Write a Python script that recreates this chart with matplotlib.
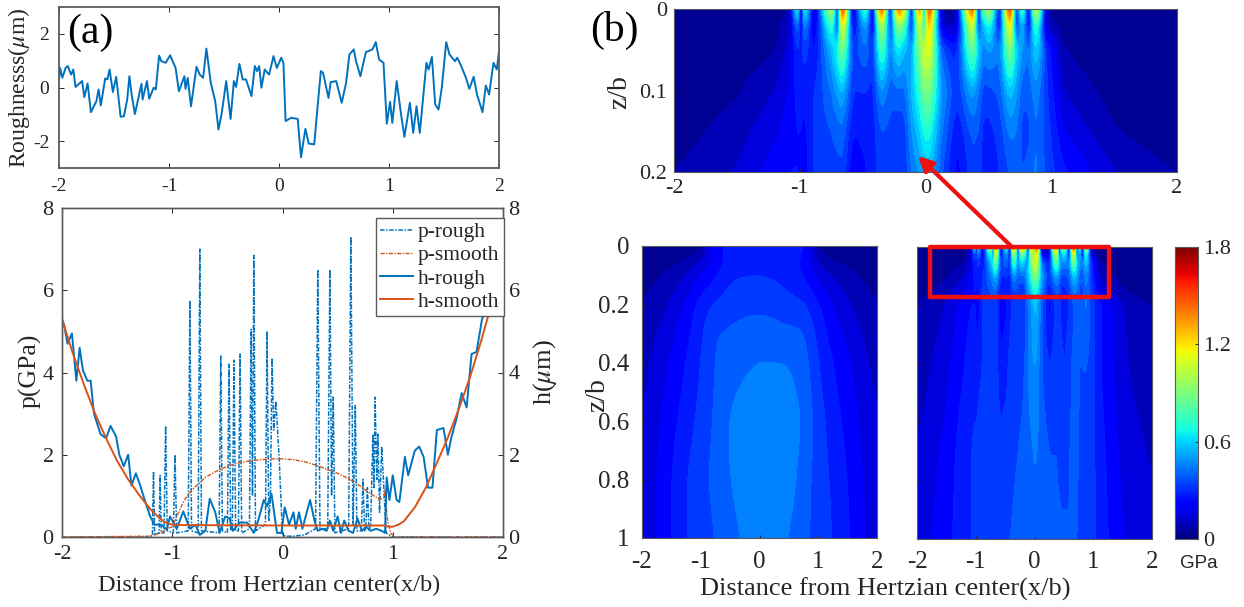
#!/usr/bin/env python
"""Rough vs smooth contact: film, pressure and subsurface stress panels."""

import numpy as np
import matplotlib

matplotlib.use("Agg")
import matplotlib.pyplot as plt
from matplotlib.patches import Rectangle

plt.rcParams["font.family"] = ["Liberation Serif", "DejaVu Serif"]
plt.rcParams["mathtext.fontset"] = "stix"

W, H = 1244, 607
BLUE = "#0072BD"
ORANGE = "#D95319"
DARK = "#262626"
EDGE = "#5a5a5a"

rough_x = [-2.00, -1.99, -1.97, -1.94, -1.92, -1.89, -1.87, -1.85, -1.79, -1.77, -1.74, -1.71, -1.66,
           -1.64, -1.62, -1.58, -1.56, -1.54, -1.51, -1.48, -1.44, -1.41, -1.38, -1.36, -1.34, -1.31,
           -1.25, -1.24, -1.20, -1.18, -1.14, -1.12, -1.09, -1.07, -1.03, -0.99, -0.94, -0.91, -0.86,
           -0.85, -0.83, -0.80, -0.75, -0.72, -0.69, -0.66, -0.62, -0.58, -0.55, -0.52, -0.48, -0.44,
           -0.41, -0.39, -0.36, -0.33, -0.30, -0.25, -0.22, -0.20, -0.18, -0.16, -0.13, -0.09, -0.05,
           -0.02, 0.02, 0.04, 0.06, 0.11, 0.17, 0.20, 0.24, 0.27, 0.32, 0.38, 0.40, 0.45, 0.47, 0.52,
           0.57, 0.61, 0.64, 0.68, 0.70, 0.74, 0.79, 0.85, 0.88, 0.91, 0.95, 0.98, 1.01, 1.03, 1.07,
           1.11, 1.14, 1.19, 1.22, 1.25, 1.28, 1.34, 1.36, 1.39, 1.42, 1.45, 1.48, 1.52, 1.55, 1.60,
           1.62, 1.65, 1.70, 1.73, 1.77, 1.80, 1.85, 1.88, 1.91, 1.95, 1.98, 2.00]
rough_y = [0.30, 0.73, 0.36, 0.73, 0.80, 0.48, 0.67, 0.02, 0.24, -0.36, 0.15, -0.92, -0.51,
           -0.07, -0.67, 0.34, 0.30, 0.67, -0.17, 0.40, -1.09, -1.07, -0.45, 0.42, -0.26, -0.99,
           0.14, -0.45, 0.24, -0.42, -0.01, -0.07, 1.19, 0.98, 0.92, 1.20, 0.73, -0.14, 0.42,
           -0.05, 0.36, -0.70, 0.77, 0.48, 0.36, 1.45, 0.17, -0.51, -1.57, -0.94, 0.24, -1.17,
           0.24, 0.02, 0.88, 0.30, 0.30, -0.32, 0.80, 0.61, 0.80, -0.01, 0.67, 0.48, 1.17,
           0.73, 1.11, 0.92, -1.25, -1.13, -1.17, -2.60, -1.54, -2.09, -2.12, 0.61, 0.55, -0.39, 0.20, 0.24,
           -0.57, 0.17, 1.23, 1.42, 0.98, 0.42, 1.32, 1.42, 1.69, 1.04, 0.92, -1.35, -0.53, -1.32, 0.24,
           -1.01, -1.84, -0.57, -1.69, -0.70, -1.69, 0.92, 0.67, 1.14, -0.63, -0.82, -0.01, 1.69, 1.23, 0.98,
           1.11, 0.86, 0.36, -0.05, 0.40, -0.26, -0.92, 0.07, -0.26, 0.92, 0.67, 1.35]

p_rough_x = [-2.0, -1.22, -1.18, -1.17, -1.16, -1.12, -1.11, -1.10, -1.075, -1.06, -1.045, -0.99, -0.975, -0.96,
             -0.855, -0.84, -0.825, -0.765, -0.75, -0.735, -0.575, -0.56, -0.545, -0.50, -0.485, -0.47,
             -0.455, -0.44, -0.425, -0.40, -0.385, -0.37, -0.30, -0.285, -0.272, -0.26, -0.245, -0.155, -0.14,
             -0.125, -0.11, -0.095, -0.08, -0.06, -0.03, 0.0, 0.03, 0.10, 0.20, 0.30, 0.32, 0.34, 0.41, 0.43,
             0.445, 0.46, 0.475, 0.60, 0.62, 0.64, 0.66, 0.675, 0.715, 0.73, 0.745, 0.755, 0.77, 0.785,
             0.80, 0.82, 0.83, 0.84, 0.855, 0.865, 0.88, 0.90, 0.94, 1.0, 2.0]
p_rough_y = [0.0, 0.0, 0.03, 1.6, 0.05, 0.1, 1.5, 0.1, 0.1, 2.7, 0.15, 0.1, 2.0, 0.1,
             0.15, 5.75, 0.15, 0.1, 7.0, 0.15, 0.1, 4.4, 0.15, 0.1, 4.2, 0.15,
             0.2, 4.3, 0.15, 0.15, 4.45, 0.1, 0.2, 5.05, 1.0, 6.85, 0.15, 0.3, 5.0,
             0.4, 0.9, 4.35, 2.6, 3.3, 1.9, 0.05, 0.02, 0.02, 0.05, 0.2, 6.5, 0.2, 0.2, 6.5,
             1.0, 3.4, 0.1, 0.2, 7.3, 0.3, 3.2, 0.15, 0.15, 1.4, 0.15, 0.15, 1.2, 0.15,
             0.3, 2.5, 1.2, 3.4, 1.4, 2.5, 0.6, 2.2, 0.1, 0.0, 0.0]

p_smooth_x = [-2.0, -1.2, -1.1, -1.05, -1.0, -0.95, -0.9, -0.85, -0.8, -0.7, -0.6, -0.5, -0.4, -0.3, -0.2, -0.1,
              0.0, 0.1, 0.2, 0.3, 0.4, 0.5, 0.6, 0.7, 0.8, 0.88, 0.92, 0.93, 0.95, 0.98, 1.02, 2.0]
p_smooth_y = [0.0, 0.02, 0.1, 0.2, 0.25, 0.55, 0.85, 1.05, 1.2, 1.45, 1.6, 1.72, 1.8, 1.85, 1.88, 1.9,
              1.9, 1.88, 1.83, 1.75, 1.65, 1.55, 1.42, 1.25, 1.05, 0.92, 0.95, 1.15, 0.45, 0.1, 0.0, 0.0]

h_rough_x = [-2.00, -1.98, -1.95, -1.91, -1.87, -1.84, -1.81, -1.77, -1.74, -1.71, -1.65, -1.60, -1.56, -1.51,
             -1.48, -1.44, -1.40, -1.37, -1.33, -1.29, -1.25, -1.20, -1.16, -1.10, -1.05, -1.02, -0.96, -0.90,
             -0.84, -0.79, -0.75, -0.70, -0.66, -0.61, -0.57, -0.52, -0.48, -0.45, -0.39, -0.32, -0.26, -0.22,
             -0.17, -0.14, -0.10, -0.05, -0.01, 0.02, 0.06, 0.10, 0.12, 0.15, 0.18, 0.22, 0.25, 0.29, 0.32,
             0.36, 0.40, 0.43, 0.46, 0.50, 0.53, 0.56, 0.60, 0.64, 0.68, 0.72, 0.76, 0.80, 0.85, 0.90, 0.93,
             0.945, 0.97, 1.00, 1.035, 1.06, 1.11, 1.14, 1.20, 1.24, 1.28, 1.32, 1.36, 1.40, 1.46, 1.50, 1.53,
             1.58, 1.625, 1.67, 1.715, 1.76, 1.81, 1.90, 1.97, 2.00]
h_rough_y = [5.30, 5.15, 4.70, 4.95, 3.80, 4.60, 4.05, 3.80, 3.80, 3.00, 2.50, 2.40, 2.70, 2.45,
             2.00, 1.72, 2.00, 1.25, 1.55, 1.25, 0.90, 0.50, 0.30, 0.30, 0.18, 0.50, 0.20, 0.62,
             0.20, 0.30, 0.05, 0.15, 0.93, 0.60, 0.10, 0.50, 0.45, 0.15, 0.35, 0.35, 0.10, 0.40,
             0.90, 0.75, 1.05, 0.10, 0.10, 0.72, 0.30, 0.60, 0.20, 0.60, 0.20, 0.60, 0.90, 0.40, 0.15,
             0.20, 0.15, 0.40, 0.15, 0.50, 0.10, 0.40, 0.15, 0.10, 0.45, 0.15, 0.25, 0.15, 0.20, 0.15, 0.10,
             1.45, 0.90, 1.50, 0.90, 0.85, 1.95, 1.50, 2.10, 2.20, 1.95, 1.20, 1.20, 2.60, 2.65, 2.00, 2.40,
             2.90, 3.50, 3.15, 4.45, 4.50, 5.30, 5.90, 6.15, 6.20]

h_smooth_x = [-2.0, -1.9, -1.8, -1.7, -1.6, -1.5, -1.4, -1.3, -1.2, -1.1, -1.05, -1.0, -0.9, 0.0, 0.92, 0.97, 1.0,
              1.05, 1.1, 1.2, 1.3, 1.4, 1.5, 1.6, 1.7, 1.8, 1.9, 2.0]
h_smooth_y = [5.3, 4.45, 3.7, 3.0, 2.4, 1.85, 1.4, 1.02, 0.68, 0.42, 0.34, 0.3, 0.29, 0.28, 0.28, 0.25, 0.25,
              0.3, 0.38, 0.72, 1.2, 1.8, 2.42, 3.12, 3.88, 4.75, 5.7, 6.75]

# stress grid, smooth contact
smooth_x = [-2, -1.75, -1.5, -1.25, -1, -0.75, -0.5, -0.25, 0, 0.25, 0.5, 0.75, 1, 1.25, 1.5, 1.75, 2]
smooth_z = [0, 0.05, 0.1, 0.2, 0.3, 0.4, 0.6, 0.8, 1]
smooth_s = [
    [0.00, 0.00, 0.00, 0.00, 0.03, 0.22, 0.26, 0.28, 0.28, 0.28, 0.28, 0.26, 0.04, 0.00, 0.00, 0.00, 0.00],
    [0.015, 0.025, 0.04, 0.06, 0.12, 0.20, 0.27, 0.285, 0.285, 0.285, 0.26, 0.23, 0.10, 0.06, 0.04, 0.025, 0.015],
    [0.03, 0.05, 0.08, 0.12, 0.18, 0.23, 0.29, 0.295, 0.295, 0.29, 0.27, 0.235, 0.16, 0.11, 0.08, 0.05, 0.03],
    [0.06, 0.09, 0.13, 0.19, 0.27, 0.31, 0.33, 0.34, 0.345, 0.34, 0.32, 0.31, 0.25, 0.18, 0.13, 0.09, 0.06],
    [0.08, 0.12, 0.16, 0.22, 0.29, 0.36, 0.37, 0.385, 0.39, 0.38, 0.375, 0.37, 0.28, 0.21, 0.16, 0.12, 0.08],
    [0.095, 0.14, 0.19, 0.24, 0.30, 0.365, 0.39, 0.41, 0.42, 0.42, 0.42, 0.39, 0.30, 0.24, 0.19, 0.14, 0.095],
    [0.12, 0.165, 0.22, 0.27, 0.32, 0.37, 0.43, 0.45, 0.46, 0.46, 0.45, 0.42, 0.33, 0.27, 0.22, 0.165, 0.12],
    [0.14, 0.18, 0.24, 0.30, 0.34, 0.38, 0.42, 0.45, 0.46, 0.46, 0.45, 0.39, 0.33, 0.29, 0.24, 0.18, 0.14],
    [0.15, 0.18, 0.24, 0.30, 0.325, 0.36, 0.40, 0.425, 0.44, 0.44, 0.415, 0.38, 0.33, 0.30, 0.25, 0.19, 0.15],
]

# stress grid, rough contact (columns sit on the asperity peaks and valleys)
rough_gx = [-2, -1.5, -1.2, -1.08, -1.02, -0.99, -0.96, -0.88, -0.75, -0.7, -0.66, -0.58, -0.48, -0.42, -0.35,
            -0.28, -0.22, -0.17, -0.11, -0.05, -0.01, 0.03, 0.12, 0.25, 0.37, 0.42, 0.46, 0.51, 0.59, 0.67,
            0.72, 0.77, 0.82, 0.88, 0.96, 1.1, 1.5, 2]
rough_gz = [0, 0.02, 0.05, 0.1, 0.15, 0.2, 0.4, 0.7, 1]
rough_s = [
    [0, 0, .01, .05, .75, .1, .75, .03, 1.15, .2, 1.72, .03, .85, .05, 1.68, .1, 1.5, 1.2, .15, 1.5, .5, 1.68,
     .05, .03, 1.68, .2, .85, 1.05, .1, 1.75, .2, .85, .1, 1.2, .05, .01, 0, 0],
    [0, .01, .03, .12, .42, .2, .48, .12, .8, .3, 1.25, .15, .55, .15, 1.1, .28, .95, .8, .25, 1.1, .7, 1.35,
     .12, .08, 1.2, .3, .55, .7, .2, 1.3, .3, .55, .2, .8, .1, .03, .01, 0],
    [0, .02, .05, .15, .3, .28, .33, .22, .55, .7, .92, .32, .42, .3, .82, .45, .65, .55, .5, .9, 1.08, 1.15,
     .38, .25, .9, .6, .45, .5, .42, .95, .62, .48, .42, .62, .3, .05, .02, 0],
    [.01, .05, .12, .19, .26, .26, .26, .3, .42, .5, .55, .3, .3, .28, .48, .38, .4, .4, .55, .72, .88, .9,
     .5, .3, .52, .42, .34, .34, .38, .58, .5, .38, .38, .46, .32, .11, .03, .01],
    [.03, .09, .17, .21, .24, .24, .22, .32, .36, .38, .4, .24, .26, .27, .36, .34, .32, .32, .48, .58, .68, .7,
     .44, .24, .38, .36, .28, .28, .32, .44, .42, .34, .34, .42, .34, .18, .06, .02],
    [.055, .125, .21, .24, .24, .22, .2, .32, .34, .34, .34, .19, .23, .28, .32, .32, .3, .31, .42, .48, .54, .55,
     .38, .2, .33, .32, .28, .26, .3, .36, .38, .36, .38, .44, .34, .26, .12, .055],
    [.08, .16, .24, .27, .28, .28, .28, .3, .34, .34, .33, .26, .28, .32, .33, .34, .34, .36, .42, .46, .48, .48,
     .36, .3, .33, .33, .32, .3, .34, .38, .38, .36, .36, .36, .34, .25, .13, .07],
    [.12, .2, .28, .3, .31, .31, .32, .34, .34, .34, .34, .32, .33, .34, .35, .36, .37, .38, .4, .41, .42, .42,
     .4, .36, .36, .34, .34, .34, .36, .37, .37, .35, .35, .34, .33, .27, .16, .11],
    [.14, .22, .28, .3, .31, .31, .32, .33, .35, .36, .36, .35, .36, .36, .37, .38, .38, .39, .4, .41, .41, .41,
     .4, .39, .38, .38, .37, .37, .36, .36, .36, .35, .35, .33, .32, .28, .18, .13],
]

levels = np.arange(0, 1.8001, 0.06)
cbar_ticks = [0, 0.6, 1.2, 1.8]


def px_axes(fig, left, top, right, bottom):
    return fig.add_axes([left / W, 1 - bottom / H, (right - left) / W, (bottom - top) / H])


def style_axes(ax, size=15, width=1.0, pad=4):
    ax.tick_params(direction="in", length=3.5, width=0.7, colors=DARK, labelsize=size, pad=pad)
    for spine in ax.spines.values():
        spine.set_color(EDGE)
        spine.set_linewidth(width)


def refine(x, z, s, factor=6, passes=2):
    """Densify a hand read grid in index space so the bands come out round."""
    s = np.array(s, dtype=float)
    ix = np.linspace(0, len(x) - 1, (len(x) - 1) * factor + 1)
    iz = np.linspace(0, len(z) - 1, (len(z) - 1) * factor + 1)
    fine = np.array([np.interp(ix, np.arange(len(x)), row) for row in s])
    fine = np.array([np.interp(iz, np.arange(len(z)), col) for col in fine.T]).T
    win = np.ones(3) / 3
    for _ in range(passes):
        pad = np.pad(fine, 1, mode="edge")
        pad = np.apply_along_axis(lambda v: np.convolve(v, win, mode="same"), 1, pad)
        pad = np.apply_along_axis(lambda v: np.convolve(v, win, mode="same"), 0, pad)
        fine = pad[1:-1, 1:-1]
    return np.interp(ix, np.arange(len(x)), x), np.interp(iz, np.arange(len(z)), z), fine


def stress_panel(ax, grid, zmax, zticks, zlabels, size=17, pad=6):
    ax.contourf(grid[0], grid[1], grid[2], levels=levels, cmap="jet", extend="both")
    ax.set_xlim(-2, 2)
    ax.set_ylim(zmax, 0)
    ax.set_xticks([-2, -1, 0, 1, 2], ["-2", "-1", "0", "1", "2"])
    ax.set_yticks(zticks, zlabels)
    style_axes(ax, size=size, width=0.8, pad=pad)
    ax.tick_params(length=2.5)


fig = plt.figure(figsize=(W / 100, H / 100), dpi=100)

# (a) roughness
ax_r = px_axes(fig, 59, 7, 499, 168)
ax_r.plot(rough_x, rough_y, color=BLUE, lw=1.4)
ax_r.set_xlim(-2, 2)
ax_r.set_ylim(-3, 3)
ax_r.set_xticks([-2, -1, 0, 1, 2], ["-2", "-1", "0", "1", "2"])
ax_r.set_yticks([-2, 0, 2], ["-2", "0", "2"])
style_axes(ax_r, size=14, width=1.3, pad=7)
ax_r.tick_params(top=True, right=True)

# (a) pressure and film thickness
ax_p = px_axes(fig, 62, 208, 503, 537)
p1, = ax_p.plot(p_rough_x, p_rough_y, color=BLUE, lw=1.1, ls=(0, (3, 1, 1, 1)), label="p-rough")
p2, = ax_p.plot(p_smooth_x, p_smooth_y, color=ORANGE, lw=1.0, ls=(0, (3, 1, 1, 1)), label="p-smooth")
h1, = ax_p.plot(h_rough_x, h_rough_y, color=BLUE, lw=1.4, label="h-rough")
h2, = ax_p.plot(h_smooth_x, h_smooth_y, color=ORANGE, lw=1.4, label="h-smooth")
ax_p.set_xlim(-2, 2)
ax_p.set_ylim(0, 8)
ax_p.set_xticks([-2, -1, 0, 1, 2], ["-2", "-1", "0", "1", "2"])
ax_p.set_yticks([0, 2, 4, 6, 8], ["0", "2", "4", "6", "8"])
style_axes(ax_p, size=16, width=1.0, pad=6)
ax_p.tick_params(top=True)
ax_h = ax_p.twinx()
ax_h.set_ylim(0, 8)
ax_h.set_yticks([0, 2, 4, 6, 8], ["0", "2", "4", "6", "8"])
style_axes(ax_h, size=16, width=1.0)
ax_h.set_zorder(ax_p.get_zorder() - 1)
ax_p.patch.set_visible(False)
ax_p.legend(handles=[p1, p2, h1, h2], loc="upper left", fontsize=15.5,
            bbox_to_anchor=((376 - 62) / 441, (537 - 218) / 329), borderaxespad=0,
            fancybox=False, framealpha=1, edgecolor=EDGE, labelspacing=0.14,
            handlelength=1.5, handletextpad=0.25, borderpad=0.2, labelcolor=DARK)

# (b) stress fields
grid_rough = refine(rough_gx, rough_gz, rough_s)
grid_smooth = refine(smooth_x, smooth_z, smooth_s, factor=8, passes=8)
ax_top = px_axes(fig, 674, 9, 1177, 172)
stress_panel(ax_top, grid_rough, 0.2, [0, 0.1, 0.2], ["0", "0.1", "0.2"], size=16, pad=5)
ax_left = px_axes(fig, 642, 246, 877, 538)
stress_panel(ax_left, grid_smooth, 1, [0, 0.2, 0.4, 0.6, 0.8, 1], ["0", "0.2", "0.4", "0.6", "0.8", "1"],
             size=18, pad=9)
ax_right = px_axes(fig, 917, 247, 1152, 539)
stress_panel(ax_right, grid_rough, 1, [0, 0.2, 0.4, 0.6, 0.8, 1], [], size=18, pad=9)

ax_right.add_patch(Rectangle((-1.78, 0.0), 3.05, 0.17, fill=False, ec="#f01010", lw=3.2,
                             clip_on=False, joinstyle="round", zorder=5))

# colour bar
ax_c = px_axes(fig, 1175, 247, 1198, 539)
ax_c.imshow(np.linspace(1.8, 0, 256)[:, None], aspect="auto", cmap="jet", vmin=0, vmax=1.8,
            extent=[0, 1, 0, 1.8])
ax_c.set_xticks([])
ax_c.yaxis.tick_right()
ax_c.set_yticks(cbar_ticks, ["0", "0.6", "1.2", "1.8"])
style_axes(ax_c, size=16, width=0.8)
ax_c.tick_params(length=2.5, left=False, right=True)

# overlay in pixel coordinates for the arrow and the free labels
ov = fig.add_axes([0, 0, 1, 1], facecolor="none")
ov.set_xlim(0, W)
ov.set_ylim(H, 0)
ov.axis("off")
ov.annotate("", xy=(918, 156), xytext=(1012, 247),
            arrowprops=dict(arrowstyle="-|>", color="#f01010", lw=3, mutation_scale=22, shrinkA=0, shrinkB=0))


def label(x, y, text, size=17, rotation=0):
    ov.text(x, y, text, fontsize=size, rotation=rotation, ha="center", va="center", color=DARK)


ov.text(90, 33, "(a)", fontsize=30, ha="center", va="center", color="black")
ov.text(614, 30, "(b)", fontsize=30, ha="center", va="center", color="black")
label(19, 88, "Roughnesss($\\mu$m)", size=17, rotation=90)
label(30, 371, "p(GPa)", size=18.5, rotation=90)
label(545, 372, "h($\\mu$m)", size=19, rotation=90)
label(269, 585, "Distance from Hertzian center(x/b)", size=17.6)
label(620, 92, "z/b", size=20, rotation=90)
label(598, 395, "z/b", size=20, rotation=90)
label(885, 589, "Distance from Hertzian center(x/b)", size=19)
ov.text(1199, 563, "GPa", fontsize=13.5, ha="center", va="center", color=DARK, family="Liberation Sans")

fig.savefig("out.png", dpi=100)
